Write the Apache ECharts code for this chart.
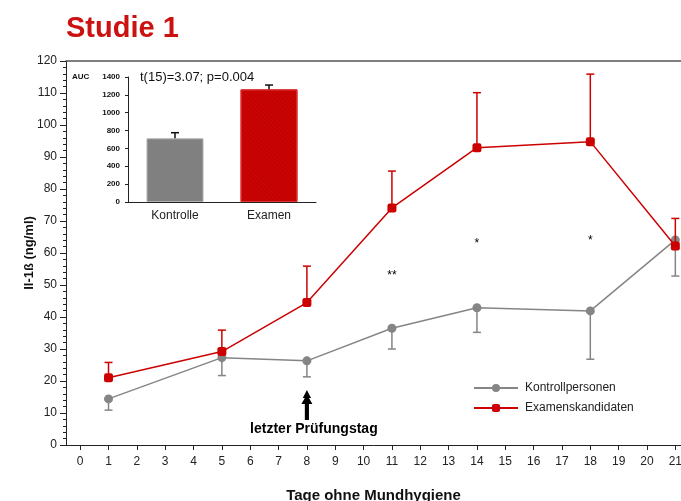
<!DOCTYPE html>
<html>
<head>
<meta charset="utf-8">
<script src="https://cdn.jsdelivr.net/npm/echarts@6/dist/echarts.min.js"></script>
<style>html,body{margin:0;padding:0;background:#fff;}#c{width:681px;height:501px;}</style>
</head>
<body>
<div id="c"></div>
<script>
// ---- data ----
const days = [1, 5, 8, 11, 14, 18, 21];
const kontrollMean = [14.4, 27.3, 26.3, 36.5, 42.9, 41.9, 64.1];
const kontrollSem  = [3.5, 5.6, 5.0, 6.5, 7.7, 15.1, 11.3];
const examenMean   = [21.0, 29.2, 44.5, 74.1, 92.9, 94.8, 62.2];
const examenSem    = [4.8, 6.7, 11.4, 11.5, 17.2, 21.1, 8.6];
const xTickValues  = [0,1,2,3,4,5,6,7,8,9,10,11,12,13,14,15,16,17,18,19,20,21];
const sigDays   = [11, 14, 18];
const sigLevels = [53, 63, 64];
const sigLabels = ['**', '*', '*'];
const arrowDay = 8, arrowLevel = 12.5;
const aucGroups = ['Kontrolle', 'Examen'];
const aucMean = [713, 1262];
const aucSem  = [63, 48];
const seriesNames = ['Kontrollpersonen', 'Examenskandidaten'];

const FONT = 'Liberation Sans, Arial, sans-serif';
const GRAY = '#858585', RED = '#cc0000';

function errRender(dir, color, hw) {
  return function (params, api) {
    const x = api.value(0), m = api.value(1), e = api.value(2);
    const p0 = api.coord([x, m]);
    const p1 = api.coord([x, m + dir * e]);
    return {
      type: 'group',
      children: [
        { type: 'line', shape: { x1: p0[0], y1: p0[1], x2: p1[0], y2: p1[1] }, style: { stroke: color, lineWidth: 1.5 } },
        { type: 'line', shape: { x1: p1[0] - hw, y1: p1[1], x2: p1[0] + hw, y2: p1[1] }, style: { stroke: color, lineWidth: 1.5 } }
      ]
    };
  };
}

const chart = echarts.init(document.getElementById('c'), null, { renderer: 'canvas' });
chart.setOption({
  animation: false,
  backgroundColor: '#fff',
  textStyle: { fontFamily: FONT },
  title: {
    text: 'Studie 1', left: 61, top: 9,
    textStyle: { fontFamily: FONT, fontSize: 29, lineHeight: 29, fontWeight: 'bold', color: '#cc1111' }
  },
  legend: {
    data: seriesNames, orient: 'vertical', left: 468, top: 377,
    itemWidth: 44, itemHeight: 10, itemGap: 8,
    textStyle: { fontFamily: FONT, fontSize: 12, color: '#222', padding: [0, 0, 0, 2] }
  },
  graphic: [
    { type: 'text', left: 72, top: 73, style: { text: 'AUC', font: 'bold 8px ' + FONT, fill: '#111' } },
    { type: 'text', left: 140, top: 71, style: { text: 't(15)=3.07; p=0.004', font: '13px ' + FONT, fill: '#111' } }
  ],
  grid: [
    { left: 66, right: 0, top: 61, bottom: 56, outerBoundsMode: 'none', containLabel: false },
    { left: 128, top: 77, width: 188, height: 125, outerBoundsMode: 'none', containLabel: false }
  ],
  xAxis: [
    {
      type: 'value', gridIndex: 0, min: -0.5, max: 21.2,
      axisLine: { onZero: false, lineStyle: { color: '#222', width: 1 } },
      axisTick: { show: true, customValues: xTickValues, length: 5, lineStyle: { color: '#222' } },
      axisLabel: { customValues: xTickValues, margin: 11, fontSize: 12, color: '#222', fontFamily: FONT },
      splitLine: { show: false },
      name: 'Tage ohne Mundhygiene', nameLocation: 'middle', nameGap: 43, nameMoveOverlap: false,
      nameTextStyle: { fontFamily: FONT, fontSize: 15, fontWeight: 'bold', color: '#111' }
    },
    {
      type: 'value', gridIndex: 0, position: 'top', min: -0.5, max: 21.2,
      axisLine: { show: true, onZero: false, lineStyle: { color: '#555', width: 1.5 } },
      axisTick: { show: false }, axisLabel: { show: false }, splitLine: { show: false }
    },
    {
      type: 'category', gridIndex: 1, data: aucGroups,
      axisLine: { lineStyle: { color: '#222' } },
      axisTick: { show: false },
      axisLabel: { fontSize: 12, color: '#222', margin: 8, fontFamily: FONT }
    }
  ],
  yAxis: [
    {
      type: 'value', gridIndex: 0, min: 0, max: 120, interval: 10,
      axisLine: { show: true, onZero: false, lineStyle: { color: '#222' } },
      axisTick: { show: true, length: 6, lineStyle: { color: '#222' } },
      minorTick: { show: true, splitNumber: 5, length: 3, lineStyle: { color: '#222' } },
      axisLabel: { fontSize: 12, color: '#222', margin: 9, fontFamily: FONT },
      splitLine: { show: false },
      name: 'Il-1ß (ng/ml)', nameLocation: 'middle', nameGap: 30, nameMoveOverlap: false,
      nameTextStyle: { fontFamily: FONT, fontSize: 13, fontWeight: 'bold', color: '#111' }
    },
    {
      type: 'value', gridIndex: 1, min: 0, max: 1400, interval: 200,
      axisLine: { show: true, onZero: false, lineStyle: { color: '#222' } },
      axisTick: { show: true, length: 3, lineStyle: { color: '#222' } },
      axisLabel: { fontSize: 8, fontWeight: 'bold', color: '#111', margin: 8, fontFamily: FONT,
                   formatter: v => String(v) },
      splitLine: { show: false }
    }
  ],
  series: [
    {
      name: seriesNames[0], type: 'line', xAxisIndex: 0, yAxisIndex: 0,
      data: days.map((d, i) => [d, kontrollMean[i]]),
      symbol: 'circle', symbolSize: 9, showAllSymbol: true,
      lineStyle: { color: GRAY, width: 1.5 }, itemStyle: { color: GRAY }, z: 3
    },
    {
      type: 'custom', xAxisIndex: 0, yAxisIndex: 0, z: 2,
      renderItem: errRender(-1, GRAY, 4),
      data: days.map((d, i) => [d, kontrollMean[i], kontrollSem[i]])
    },
    {
      name: seriesNames[1], type: 'line', xAxisIndex: 0, yAxisIndex: 0,
      data: days.map((d, i) => [d, examenMean[i]]),
      symbol: 'roundRect', symbolSize: 9, showAllSymbol: true,
      lineStyle: { color: RED, width: 1.5 }, itemStyle: { color: RED }, z: 5
    },
    {
      type: 'custom', xAxisIndex: 0, yAxisIndex: 0, z: 4,
      renderItem: errRender(1, RED, 4),
      data: days.map((d, i) => [d, examenMean[i], examenSem[i]])
    },
    {
      type: 'scatter', xAxisIndex: 0, yAxisIndex: 0, silent: true,
      symbolSize: 0, itemStyle: { opacity: 1 },
      data: sigDays.map((d, i) => ({ value: [d, sigLevels[i]], label: { formatter: sigLabels[i] } })),
      label: { show: true, position: 'inside', fontSize: 12, color: '#000', fontFamily: FONT }
    },
    {
      type: 'scatter', xAxisIndex: 0, yAxisIndex: 0, silent: true,
      data: [[arrowDay, arrowLevel]],
      symbol: 'path://M5,0 L8,8 L6.5,8 L9,14 L6.5,14 L6.5,30 L3.5,30 L3.5,14 L1,14 L3.5,8 L2,8 Z',
      symbolSize: [11, 30], itemStyle: { color: '#000', opacity: 1 },
      label: { show: true, position: 'bottom', distance: 2, offset: [7, 0], formatter: 'letzter Prüfungstag',
               fontSize: 14, fontWeight: 'bold', color: '#000', fontFamily: FONT }
    },
    {
      type: 'bar', xAxisIndex: 2, yAxisIndex: 1, barWidth: 57,
      data: aucMean.map((v, i) => ({
        value: v,
        itemStyle: i === 0 ? { color: '#808080', borderColor: '#b0b0b0', borderWidth: 1 }
                           : { color: '#c40000', borderColor: '#d33', borderWidth: 1,
                               decal: { symbol: 'rect', symbolSize: 0.6, dashArrayX: [1, 0], dashArrayY: [1, 2], rotation: 0.785, color: 'rgba(255,80,80,0.35)' } }
      }))
    },
    {
      type: 'custom', xAxisIndex: 2, yAxisIndex: 1, z: 3,
      renderItem: errRender(1, '#111', 4),
      data: aucGroups.map((g, i) => [i, aucMean[i], aucSem[i]])
    }
  ]
});
</script>
</body>
</html>
